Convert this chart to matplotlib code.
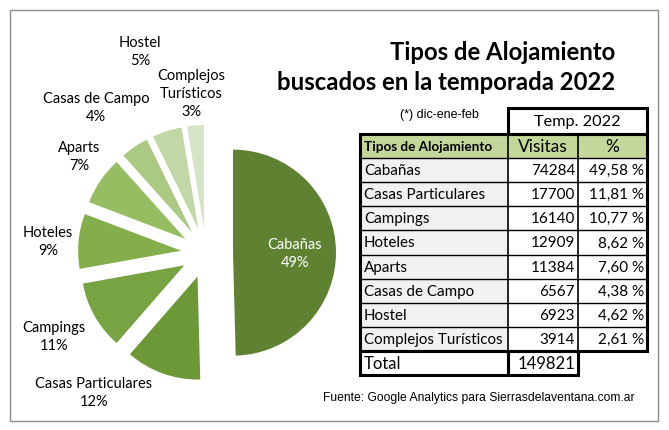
import matplotlib.pyplot as plt
from matplotlib.patches import Rectangle

# --- datos ---
tipos = ["Cabañas", "Casas Particulares", "Campings", "Hoteles", "Aparts",
         "Casas de Campo", "Hostel", "Complejos Turísticos"]
visitas = [74284, 17700, 16140, 12909, 11384, 6567, 6923, 3914]
porcentajes = ["49,58 %", "11,81 %", "10,77 %", "8,62 %", "7,60 %",
               "4,38 %", "4,62 %", "2,61 %"]
etiquetas_torta = ["Cabañas\n49%", "Casas Particulares\n12%", "Campings\n11%",
                   "Hoteles\n9%", "Aparts\n7%", "Casas de Campo\n4%",
                   "Hostel\n5%", "Complejos\nTurísticos\n3%"]
total = "149821"

colores = ["#5f8232", "#6d9838", "#78a342", "#84ae4b", "#97bd62",
           "#abc983", "#c2d7a6", "#d6e3c6"]

# posiciones de etiquetas (pixeles, y hacia abajo)
pos_etq = [(295, 254), (94, 393), (54, 337), (48, 242), (79, 157),
           (96, 108), (140, 52), (191, 94)]

W, H = 669, 430
def py(y):
    return H - y

fuente = "Lato"
fuente_arial = "Liberation Sans"

fig = plt.figure(figsize=(W / 100, H / 100), dpi=100)
ax = fig.add_axes([0, 0, 1, 1])

# --- torta --- (explode en pixeles)
explode = [27] + [25] * 7
ax.pie(visitas, colors=colores, startangle=90, counterclock=False,
       explode=explode, radius=103, center=(206, py(253)),
       wedgeprops=dict(linewidth=0))
for i, (x, y) in enumerate(pos_etq):
    ax.text(x, py(y), etiquetas_torta[i], ha="center", va="center",
            fontsize=10.5, family=fuente, linespacing=1.35,
            color="white" if i == 0 else "black")

ax.set_xlim(0, W)
ax.set_ylim(0, H)
ax.set_aspect("auto")
ax.axis("off")

# marco
ax.add_patch(Rectangle((10, py(421)), 648, 411, fill=False,
                       edgecolor="#8c8c8c", lw=1))

# --- titulo ---
ax.text(615, py(52), "Tipos de Alojamiento", ha="right", va="center",
        fontsize=17.2, fontweight="bold", family=fuente)
ax.text(615, py(82), "buscados en la temporada 2022", ha="right", va="center",
        fontsize=17.2, fontweight="bold", family=fuente)

ax.text(439, py(115), "(*) dic-ene-feb", ha="center", va="center",
        fontsize=9, family=fuente_arial)
ax.text(479, py(398), "Fuente: Google Analytics para Sierrasdelaventana.com.ar",
        ha="center", va="center", fontsize=8.75, family=fuente_arial)

# --- tabla ---
x0, x1, x2, x3 = 360, 508, 578, 647
y_temp, y_head, y_rows = 108, 134, 158
alto = (351 - 158) / len(tipos)
y_tot_top, y_tot_bot = 351, 375

def caja(xa, ya, xb, yb, fc="none", lw=2.2):
    ax.add_patch(Rectangle((xa, py(yb)), xb - xa, yb - ya, facecolor=fc,
                           edgecolor="black", lw=lw))

# fondos
ax.add_patch(Rectangle((x0, py(y_rows)), x3 - x0, y_rows - y_head,
                       facecolor="#c4d79b", edgecolor="none"))
ax.add_patch(Rectangle((x0, py(351)), x1 - x0, 351 - y_rows,
                       facecolor="#f1f1f1", edgecolor="none"))

# lineas internas
for i in range(len(tipos) + 1):
    y = y_rows + i * alto
    ax.plot([x0, x3], [py(y), py(y)], color="black", lw=1.0)
for x in (x1, x2):
    ax.plot([x, x], [py(y_head), py(351)], color="black", lw=1.2)

caja(x0, y_head, x3, 351)
caja(x1, y_temp, x3, y_head)
caja(x0, y_tot_top, x1, y_tot_bot)
caja(x1, y_tot_top, x2, y_tot_bot)

ax.text((x1 + x3) / 2, py((y_temp + y_head) / 2 + 1), "Temp. 2022",
        ha="center", va="center", fontsize=11.7, family=fuente)
ax.text(x0 + 4, py((y_head + y_rows) / 2 + 1), "Tipos de Alojamiento",
        ha="left", va="center", fontsize=9.7, fontweight="bold", family=fuente)
ax.text((x1 + x2) / 2, py((y_head + y_rows) / 2 + 1), "Visitas",
        ha="center", va="center", fontsize=12.5, family=fuente)
ax.text((x2 + x3) / 2, py((y_head + y_rows) / 2 + 1), "%",
        ha="center", va="center", fontsize=12.5, family=fuente)

for i, t in enumerate(tipos):
    yc = py(y_rows + (i + 0.5) * alto + 1)
    ax.text(x0 + 4, yc, t, ha="left", va="center", fontsize=10.9, family=fuente)
    ax.text(x2 - 3, yc, str(visitas[i]), ha="right", va="center",
            fontsize=11, family=fuente)
    ax.text(x3 - 3, yc, porcentajes[i], ha="right", va="center",
            fontsize=11, family=fuente)

yc = py((y_tot_top + y_tot_bot) / 2 + 1)
ax.text(x0 + 4, yc, "Total", ha="left", va="center", fontsize=12, family=fuente)
ax.text(x2 - 3, yc, total, ha="right", va="center", fontsize=12, family=fuente)

fig.savefig("out.png", dpi=100, facecolor="white")
